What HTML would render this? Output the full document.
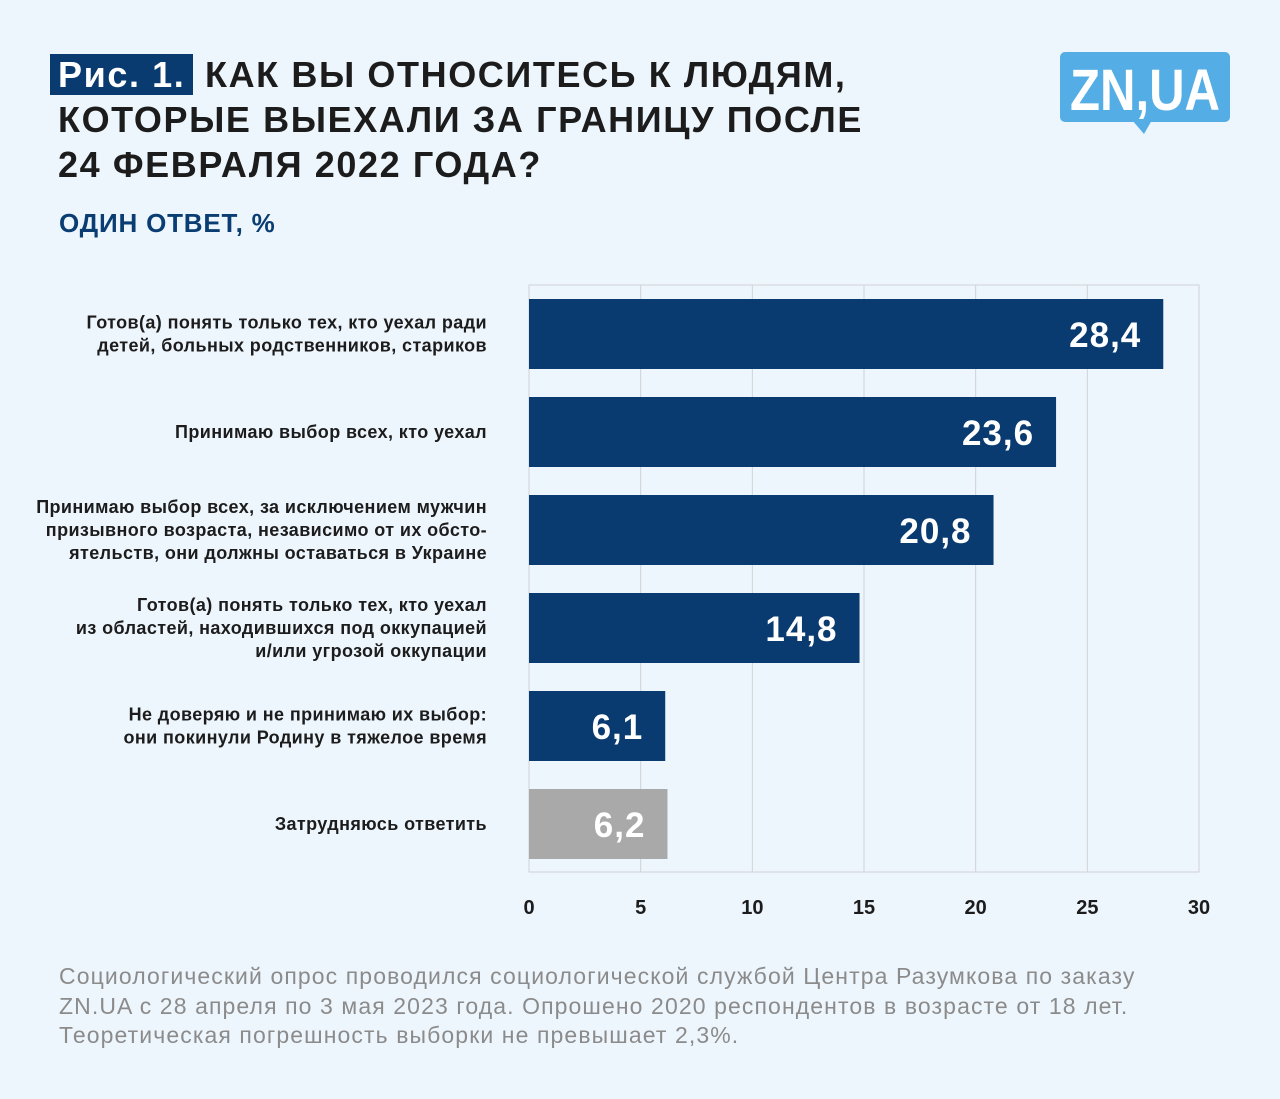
<!DOCTYPE html>
<html><head><meta charset="utf-8"><style>
body{margin:0;width:1280px;height:1099px;background:#eef6fd;font-family:"Liberation Sans",sans-serif;overflow:hidden;position:relative}
.t{position:absolute;left:58px;top:52px;font-weight:bold;font-size:36px;line-height:45px;color:#1c1c1c;letter-spacing:1.6px}
.fig{background:#093b70;color:#fff;padding:0 8px;margin-left:-8px}
.sub{position:absolute;left:59px;top:208px;font-weight:bold;font-size:26px;color:#0a3d72;letter-spacing:0.8px}
.foot{position:absolute;left:59px;top:962px;font-size:23px;line-height:29.5px;color:#8b8b8b;letter-spacing:1.1px;white-space:nowrap}
</style></head><body>
<div class="t"><span class="fig">Рис. 1.</span> КАК ВЫ ОТНОСИТЕСЬ К ЛЮДЯМ,<br>КОТОРЫЕ ВЫЕХАЛИ ЗА ГРАНИЦУ ПОСЛЕ<br>24 ФЕВРАЛЯ 2022 ГОДА?</div>
<div class="sub">ОДИН ОТВЕТ, %</div>
<svg style="position:absolute;left:1060px;top:52px" width="172" height="82">
<rect x="0" y="0" width="170" height="70" rx="5" fill="#55ade6"/>
<polygon points="72,68 92,68 84,82" fill="#55ade6"/>
<text x="85" y="58" text-anchor="middle" font-family="Liberation Sans" font-weight="bold" font-size="58" fill="#fff" textLength="150" lengthAdjust="spacingAndGlyphs">ZN,UA</text>
</svg>
<svg id="c" style="position:absolute;left:0;top:0" width="1280" height="950"></svg>
<div class="foot">Социологический опрос проводился социологической службой Центра Разумкова по заказу<br>ZN.UA с 28 апреля по 3 мая 2023 года. Опрошено 2020 респондентов в возрасте от 18 лет.<br>Теоретическая погрешность выборки не превышает 2,3%.</div>
<script>
const categories=[["Готов(а) понять только тех, кто уехал ради","детей, больных родственников, стариков"],["Принимаю выбор всех, кто уехал"],["Принимаю выбор всех, за исключением мужчин","призывного возраста, независимо от их обсто-","ятельств, они должны оставаться в Украине"],["Готов(а) понять только тех, кто уехал","из областей, находившихся под оккупацией","и/или угрозой оккупации"],["Не доверяю и не принимаю их выбор:","они покинули Родину в тяжелое время"],["Затрудняюсь ответить"]];
const values=[28.4,23.6,20.8,14.8,6.1,6.2];
const labels=["28,4","23,6","20,8","14,8","6,1","6,2"];
const ticks=[0,5,10,15,20,25,30];
const NS="http://www.w3.org/2000/svg",svg=document.getElementById('c');
const x0=529,x1=1199,top0=285,bot=872;
const x=v=>x0+(v/30)*(x1-x0);
const y=i=>299+i*98;
function mk(t,a,p){const e=document.createElementNS(NS,t);for(const k in a)e.setAttribute(k,a[k]);(p||svg).appendChild(e);return e;}
const fr=mk('rect',{x:x0,y:top0,width:x1-x0,height:bot-top0,fill:'none',stroke:'#d0d3d6','stroke-width':1});


ticks.forEach(t=>{
 const l=mk('line',{x1:x(t),x2:x(t),y1:top0,y2:bot,stroke:'#d0d3d6','stroke-width':1});
 
 
 const tx=mk('text',{x:x(t),y:914,'text-anchor':'middle','font-size':20,'font-weight':'bold',fill:'#1c1c1c'});
 tx.textContent=t;
 
 
});
values.forEach((v,i)=>{
 const r=mk('rect',{x:x0,y:y(i),width:x(v)-x0,height:70,fill:i==5?'#a9a9a9':'#093b70'});
 
 
 const vt=mk('text',{x:x(v)-22,y:y(i)+48,'text-anchor':'end','font-size':35,'font-weight':'bold',fill:'#fff','letter-spacing':1});
 vt.textContent=labels[i];
 
 
 const lines=categories[i],n=lines.length;
 lines.forEach((s,j)=>{
  const ct=mk('text',{x:487,y:y(i)+35+(j-(n-1)/2)*23+6,'text-anchor':'end','font-size':18,'font-weight':'bold',fill:'#1c1c1c','letter-spacing':0.4});
  ct.textContent=s;
  
  
 });
});
</script>
</body></html>
